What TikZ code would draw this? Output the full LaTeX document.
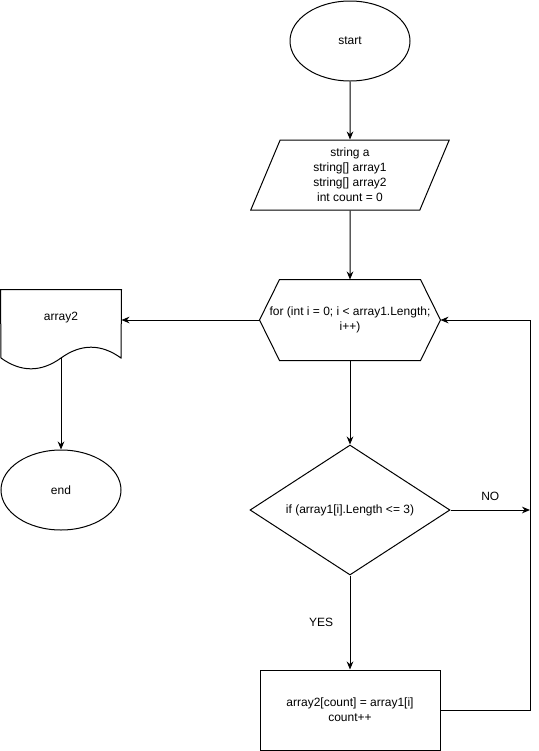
\documentclass[tikz,border=0pt]{standalone}
\usepackage{fontspec}
\setmainfont{Liberation Sans}
\usetikzlibrary{
  arrows.meta,
  shapes.geometric
}
\tikzset{
  % For start and end.
  terminal/.style={
    draw,
    ellipse,
    minimum width=90pt,
    minimum height=60pt,
    inner sep=0pt},
%
  % For declarations.
  io/.style={
    draw,
    trapezium,
    trapezium left angle=74,
    trapezium right angle=106,
    trapezium stretches=true,
    minimum width=150pt,
    minimum height=52.5pt,
    inner sep=0pt,
    align=center},
%
  % For the loop header; its hexagon is drawn by hand.
  loop head/.style={
    rectangle,
    minimum width=135pt,
    minimum height=60pt,
    inner sep=0pt,
    align=center},
%
  % For the test.
  decision/.style={
    draw,
    diamond,
    aspect=1.54,
    minimum width=150pt,
    minimum height=97.5pt,
    inner sep=0pt},
%
  % For the loop body.
  process/.style={
    draw,
    rectangle,
    minimum width=135pt,
    minimum height=60pt,
    align=center},
%
  % For the output; its wavy outline is drawn by hand.
  document/.style={
    rectangle,
    minimum width=90pt,
    minimum height=60pt},
%
  % For connectors.
  flow/.style={
    -{Stealth[length=6pt,width=5pt]}},
}

\begin{document}
\begin{tikzpicture}[x=0.75pt, y=-0.75pt, line width=0.75pt,
    font=\fontsize{9}{11.25}\selectfont]
  \useasboundingbox (0,0) rectangle (539,751);

  \node[terminal] (start) at (350,41) {start};
  \node[io] (input) at (350,175)
    {string a\\string[] array1\\string[] array2\\int count = 0};
  \node[loop head] (for) at (350,320)
    {for (int i = 0; i < array1.Length;\\i++)};
  \node[decision] (cond) at (350,510) {if (array1[i].Length <= 3)};
  \node[process] (body) at (350,710) {array2[count] = array1[i]\\count++};

  \node[document] (out) at (61,330) {};
  \node (outtext) at ([yshift=9pt]out.center) {array2};
  \node[terminal] (end) at (61,490) {end};

  \draw (for.west) -- ([xshift=15pt]for.north west)
    -- ([xshift=-15pt]for.north east) -- (for.east)
    -- ([xshift=-15pt]for.south east) -- ([xshift=15pt]for.south west)
    -- cycle;

  \draw (out.north west) -- (out.north east) -- (121,358)
    .. controls (101,343.6) and (81,343.6) .. (61,358)
    .. controls (41,372.4) and (21,372.4) .. (1,358) -- cycle;

  \coordinate (outb) at (61,358);
  \coordinate (join) at (530,510);
  \coordinate (back) at (530,320);

  \draw[flow] (start) -- (input);
  \draw[flow] (input) -- (for);
  \draw[flow] (for) -- (cond);
  \draw[flow] (for.west) -- (for.west -| out.east);
  \draw[flow] (outb) -- (end);
  \draw[flow] (cond) -- node[left, xshift=-9pt] {YES} (body);
  \draw[flow] (cond) -- node[above, yshift=3pt] {NO} (join);
  \draw[flow] (body.east) -- (body.east -| join) -- (back) -- (for.east);
\end{tikzpicture}
\end{document}
